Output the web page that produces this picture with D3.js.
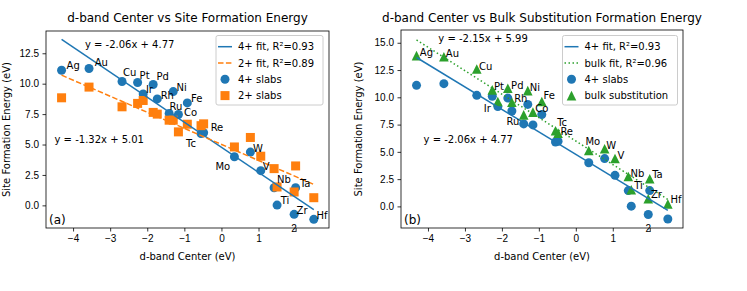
<!DOCTYPE html>
<html>
<head>
<meta charset="utf-8">
<script src="https://d3js.org/d3.v7.min.js"></script>
<style>
  body { margin:0; background:#fff; }
  svg { font-family:"DejaVu Sans", sans-serif; }
  .tick text { font-size:10px; fill:#000; }
  .tick line { stroke:#000; stroke-width:0.8; }
</style>
</head>
<body>
<script>
// element order shared by every series
var elements = ["Ag","Au","Cu","Pt","Pd","Ir","Rh","Ni","Fe","Ru","Co","Tc","Re","Mo","W","V","Nb","Ta","Ti","Zr","Hf"];
// d-band center (eV)
var dband  = [-4.31,-3.57,-2.68,-2.26,-1.84,-2.11,-1.73,-1.30,-0.92,-1.41,-1.16,-0.55,-0.48,0.35,0.78,1.06,1.42,2.00,1.50,1.96,2.49];
// site formation energy, 4+ slabs
var site4  = [11.10,11.25,10.18,10.10,9.93,9.15,8.75,9.35,8.42,7.56,7.47,5.90,5.97,4.00,4.38,2.85,1.45,1.45,0.02,-0.74,-1.15];
// site formation energy, 2+ slabs
var site2  = [8.84,9.72,8.10,8.38,7.64,8.62,7.50,7.00,6.67,7.00,6.04,6.55,6.70,4.80,5.58,4.04,3.02,3.24,1.51,1.10,0.63];
// bulk substitution formation energy
var bulkE  = [13.82,13.72,12.60,10.68,10.83,9.61,9.55,10.61,9.61,8.39,8.64,6.93,6.72,5.12,5.28,4.39,2.74,2.53,1.53,0.70,0.22];

var fit4    = {m:-2.06, b:4.77, r2:"0.93"};
var fit2    = {m:-1.32, b:5.01, r2:"0.89"};
var fitBulk = {m:-2.15, b:5.99, r2:"0.96"};

var xTicks  = [-4,-3,-2,-1,0,1,2];
var yTicksA = [0,2.5,5,7.5,10,12.5];
var yTicksB = [0,2.5,5,7.5,10,12.5,15];

// label nudges in px (text left / baseline relative to the marker)
var nudgeA = {Ag:[5,-1],Au:[5.7,-2.6],Cu:[1,-5.3],Pt:[2,-3.4],Pd:[3.4,-5],Ir:[2.7,-0.7],Rh:[3.4,0],Ni:[3.4,-0.7],
  Fe:[3.7,-1],Ru:[0.3,-3.3],Co:[5.7,1.4],Tc:[-15,13],Re:[7,-2],Mo:[-19,13.3],W:[2.7,0],V:[2,-0.7],Nb:[3,-5],
  Ta:[4.3,-1],Ti:[3.7,-1],Zr:[2.4,-0.7],Hf:[2.7,-0.6]};
var nudgeB = {Ag:[3.3,0],Au:[2,0.6],Cu:[2.3,1],Pt:[1.6,0],Pd:[3.3,0.7],Ir:[-14,10.6],Rh:[2.3,0],Ni:[2,0.3],
  Fe:[1.7,-2.7],Ru:[-17.3,10],Co:[2.3,0],Tc:[1.7,-5.3],Re:[2.3,1.7],Mo:[-3.3,-5.7],W:[1.7,0],V:[2.4,0],
  Nb:[2.3,0.6],Ta:[2.4,-0.7],Ti:[3,-0.7],Zr:[2.7,-0.7],Hf:[2.6,-1]};

var blue = "#1f77b4", orange = "#ff7f0e", green = "#2ca02c";

var svg = d3.select("body").append("svg")
    .attr("width", 747).attr("height", 291);

function marker(g, shape, color, x, y) {
  if (shape == "o") {
    g.append("circle").attr("cx", x).attr("cy", y).attr("r", 4.5).attr("fill", color);
  } else if (shape == "s") {
    g.append("rect").attr("x", x - 4.5).attr("y", y - 4.5).attr("width", 9).attr("height", 9).attr("fill", color);
  } else {
    g.append("path").attr("d", "M" + x + "," + (y - 4.8) + "L" + (x + 4.8) + "," + (y + 4.8) + "L" + (x - 4.8) + "," + (y + 4.8) + "Z")
      .attr("fill", color);
  }
}

function panel(cfg) {
  var x = d3.scaleLinear().domain([-4.73, 2.90]).range([cfg.left, cfg.right]);
  var y = d3.scaleLinear().domain(cfg.ydom).range([cfg.bottom, cfg.top]);
  var g = svg.append("g");

  // scatters
  cfg.series.forEach(function(s) {
    elements.forEach(function(el, i) {
      marker(g, s.shape, s.color, x(dband[i]), y(s.values[i]));
    });
  });

  // fit lines
  var ext = d3.extent(dband);
  cfg.fits.forEach(function(f) {
    g.append("line")
      .attr("x1", x(ext[0])).attr("y1", y(f.fit.m * ext[0] + f.fit.b))
      .attr("x2", x(ext[1])).attr("y2", y(f.fit.m * ext[1] + f.fit.b))
      .attr("stroke", f.color).attr("stroke-width", 1.5)
      .attr("stroke-dasharray", f.dash);
  });

  // element labels
  elements.forEach(function(el, i) {
    var n = cfg.nudge[el];
    g.append("text")
      .attr("x", x(dband[i]) + n[0]).attr("y", y(cfg.labelOn[i]) + n[1])
      .attr("font-size", 10).text(el);
  });

  // equations
  cfg.eqs.forEach(function(e) {
    g.append("text").attr("x", x(e.at[0])).attr("y", y(e.at[1]))
      .attr("font-size", 10).text(e.text);
  });

  // axes
  var xa = g.append("g").attr("transform", "translate(0," + cfg.bottom + ")")
    .call(d3.axisBottom(x).tickValues(xTicks).tickSize(3.5).tickPadding(3.5));
  xa.select(".domain").remove();
  xa.selectAll(".tick").filter(function(d) { return d == 2; }).select("text")
    .attr("y", 3.5).attr("dy", null).attr("x", -2);

  var ya = g.append("g").attr("transform", "translate(" + cfg.left + ",0)")
    .call(d3.axisLeft(y).tickValues(cfg.yTicks).tickSize(3.5).tickPadding(3.5).tickFormat(d3.format(".1f")));
  ya.select(".domain").remove();

  g.append("rect").attr("x", cfg.left).attr("y", cfg.top)
    .attr("width", cfg.right - cfg.left).attr("height", cfg.bottom - cfg.top)
    .attr("fill", "none").attr("stroke", "#000").attr("stroke-width", 0.8);

  g.append("text").attr("x", cfg.left + 3).attr("y", cfg.bottom - 4)
    .attr("font-size", 12).text(cfg.tag);

  // titles
  g.append("text").attr("x", (cfg.left + cfg.right) / 2).attr("y", 22)
    .attr("text-anchor", "middle").attr("font-size", 12).text(cfg.title);
  g.append("text").attr("x", (cfg.left + cfg.right) / 2).attr("y", 260)
    .attr("text-anchor", "middle").attr("font-size", 10).text("d-band Center (eV)");
  g.append("text").attr("transform", "translate(" + cfg.ylabX + "," + (cfg.top + cfg.bottom) / 2 + ") rotate(-90)")
    .attr("text-anchor", "middle").attr("font-size", 10).text("Site Formation Energy (eV)");

  // legend
  var lg = g.append("g");
  lg.append("rect").attr("x", cfg.legX).attr("y", 35.5).attr("width", cfg.legW).attr("height", 69.5)
    .attr("rx", 2).attr("fill", "#fff").attr("fill-opacity", 0.8)
    .attr("stroke", "#ccc").attr("stroke-width", 1);
  cfg.legend.forEach(function(it, i) {
    var cy = 46.7 + i * 16.3, hx = cfg.legX + 9;
    if (it.dash !== undefined) {
      lg.append("line").attr("x1", hx - 7).attr("x2", hx + 7).attr("y1", cy).attr("y2", cy)
        .attr("stroke", it.color).attr("stroke-width", 1.5).attr("stroke-dasharray", it.dash);
    } else {
      marker(lg, it.shape, it.color, hx, cy);
    }
    lg.append("text").attr("x", hx + 13).attr("y", cy + 3.6).attr("font-size", 10).text(it.text);
  });
}

panel({
  left:46, right:329, top:31, bottom:228, ydom:[-1.86, 14.33], yTicks:yTicksA, ylabX:10,
  title:"d-band Center vs Site Formation Energy", tag:"(a)",
  series:[{values:site4, shape:"o", color:blue}, {values:site2, shape:"s", color:orange}],
  fits:[{fit:fit4, color:blue, dash:null}, {fit:fit2, color:orange, dash:"5.5,2.4"}],
  labelOn:site4, nudge:nudgeA,
  eqs:[{at:[-3.68, 12.9], text:"y = -2.06x + 4.77"}, {at:[-4.50, 5.1], text:"y = -1.32x + 5.01"}],
  legX:216, legW:107,
  legend:[{color:blue, dash:null, text:"4+ fit, R\u00b2=" + fit4.r2},
          {color:orange, dash:"5.5,2.4", text:"2+ fit, R\u00b2=" + fit2.r2},
          {color:blue, shape:"o", text:"4+ slabs"},
          {color:orange, shape:"s", text:"2+ slabs"}]
});

panel({
  left:401, right:683, top:30, bottom:228, ydom:[-1.98, 16.17], yTicks:yTicksB, ylabX:362,
  title:"d-band Center vs Bulk Substitution Formation Energy", tag:"(b)",
  series:[{values:site4, shape:"o", color:blue}, {values:bulkE, shape:"^", color:green}],
  fits:[{fit:fit4, color:blue, dash:null}, {fit:fitBulk, color:green, dash:"1.5,2.5"}],
  labelOn:bulkE, nudge:nudgeB,
  eqs:[{at:[-3.72, 15.1], text:"y = -2.15x + 5.99"}, {at:[-4.12, 5.83], text:"y = -2.06x + 4.77"}],
  legX:562.5, legW:115,
  legend:[{color:blue, dash:null, text:"4+ fit, R\u00b2=" + fit4.r2},
          {color:green, dash:"1.5,2.5", text:"bulk fit, R\u00b2=" + fitBulk.r2},
          {color:blue, shape:"o", text:"4+ slabs"},
          {color:green, shape:"^", text:"bulk substitution"}]
});
</script>
</body>
</html>
